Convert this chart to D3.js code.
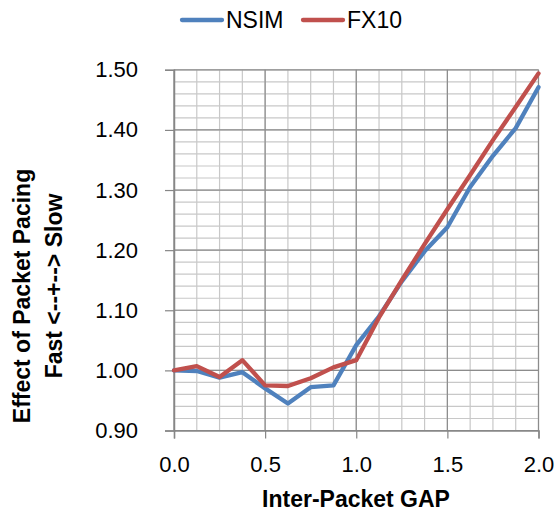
<!DOCTYPE html>
<meta charset="utf-8">
<style>
  body { margin: 0; background: #fff; }
  #chart text { font-family: "Liberation Sans", Arial, sans-serif; fill: #000; }
</style>
<body>
<div id="chart"></div>
<script src="https://d3js.org/d3.v7.min.js"></script>
<script>
  // data
  const gaps = [0, 0.125, 0.25, 0.375, 0.5, 0.625, 0.75, 0.875, 1.0, 1.125, 1.25, 1.375, 1.5, 1.625, 1.75, 1.875, 2.0];
  const nsim = [1.000, 0.999, 0.988, 0.997, 0.970, 0.945, 0.972, 0.975, 1.042, 1.090, 1.148, 1.198, 1.238, 1.305, 1.357, 1.403, 1.471];
  const fx10 = [1.000, 1.007, 0.989, 1.017, 0.975, 0.974, 0.987, 1.005, 1.017, 1.088, 1.150, 1.210, 1.268, 1.325, 1.383, 1.438, 1.494];
  const xTicks = [0, 0.5, 1.0, 1.5, 2.0];
  const yTicks = [0.9, 1.0, 1.1, 1.2, 1.3, 1.4, 1.5];
  const seriesNames = ["NSIM", "FX10"];
  const colors = ["#4F81BD", "#C0504D"];

  const W = 555, H = 517;
  const svg = d3.select("#chart").append("svg")
    .attr("width", W).attr("height", H);

  const x = d3.scaleLinear().domain([0, 2]).range([174, 538.5]);
  const y = d3.scaleLinear().domain([0.9, 1.5]).range([430.5, 69.8]);

  // minor grid
  const minorX = d3.range(0, 17).map(i => i * 0.125);
  const minorY = d3.range(0, 31).map(i => 0.9 + i * 0.02);

  svg.append("g")
    .selectAll("line").data(minorX).join("line")
    .attr("x1", d => x(d)).attr("x2", d => x(d))
    .attr("y1", y(1.5)).attr("y2", y(0.9))
    .attr("stroke", "#c8c8c8").attr("stroke-width", 1.2);
  svg.append("g")
    .selectAll("line").data(minorY).join("line")
    .attr("x1", x(0)).attr("x2", x(2))
    .attr("y1", d => y(d)).attr("y2", d => y(d))
    .attr("stroke", "#c8c8c8").attr("stroke-width", 1.2);

  // major grid
  svg.append("g")
    .selectAll("line").data(xTicks).join("line")
    .attr("x1", d => x(d)).attr("x2", d => x(d))
    .attr("y1", y(1.5)).attr("y2", y(0.9))
    .attr("stroke", "#8c8c8c").attr("stroke-width", 1.2);
  svg.append("g")
    .selectAll("line").data(yTicks).join("line")
    .attr("x1", x(0)).attr("x2", x(2))
    .attr("y1", d => y(d)).attr("y2", d => y(d))
    .attr("stroke", "#8c8c8c").attr("stroke-width", 1.2);

  // axes
  const xAxis = svg.append("g")
    .attr("transform", `translate(0,${y(0.9)})`)
    .call(d3.axisBottom(x).tickValues(xTicks).tickFormat(d3.format(".1f")).tickSize(8).tickPadding(18));
  const yAxis = svg.append("g")
    .attr("transform", `translate(${x(0)},0)`)
    .call(d3.axisLeft(y).tickValues(yTicks).tickFormat(d3.format(".2f")).tickSize(9).tickPadding(27));

  [xAxis, yAxis].forEach(a => {
    a.select(".domain").attr("stroke", "#868686").attr("stroke-width", 1.5);
    a.selectAll(".tick line").attr("stroke", "#868686").attr("stroke-width", 1.2);
    a.selectAll(".tick text").style("font-size", "22px")
      .style("font-family", "'Liberation Sans', Arial, sans-serif");
  });

  // lines
  const line = d3.line()
    .x((d, i) => x(gaps[i]))
    .y(d => y(d));

  [nsim, fx10].forEach((s, k) => {
    svg.append("path")
      .datum(s)
      .attr("d", line)
      .attr("fill", "none")
      .attr("stroke", colors[k])
      .attr("stroke-width", 4.3)
      .attr("stroke-linejoin", "round")
      .attr("stroke-linecap", "round");
  });

  // legend
  const legendX = [182, 303];
  const legend = svg.append("g");
  seriesNames.forEach((n, k) => {
    legend.append("line")
      .attr("x1", legendX[k]).attr("x2", legendX[k] + 40)
      .attr("y1", 20).attr("y2", 20)
      .attr("stroke", colors[k]).attr("stroke-width", 4.3)
      .attr("stroke-linecap", "round");
    legend.append("text")
      .attr("x", legendX[k] + 44).attr("y", 28)
      .style("font-size", "23px")
      .text(n);
  });

  // axis titles
  svg.append("text")
    .attr("x", 356).attr("y", 507)
    .attr("text-anchor", "middle")
    .style("font-size", "23px").style("font-weight", "bold")
    .text("Inter-Packet GAP");

  const yt = svg.append("text")
    .attr("transform", "translate(30,296) rotate(-90)")
    .attr("text-anchor", "middle")
    .style("font-size", "23px").style("font-weight", "bold");
  yt.append("tspan").attr("x", 0).attr("y", 0).text("Effect of Packet Pacing");
  yt.append("tspan").attr("x", 10).attr("y", 32).text("Fast <--+--> Slow");
</script>
</body>
